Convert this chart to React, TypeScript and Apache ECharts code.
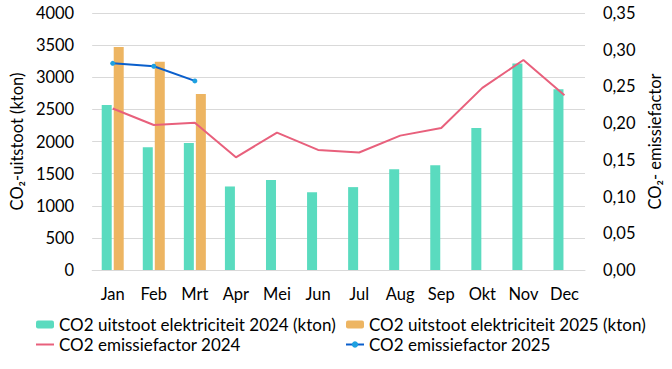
import React, { useEffect, useRef } from "react";
import * as echarts from "echarts";

const months = ["Jan", "Feb", "Mrt", "Apr", "Mei", "Jun", "Jul", "Aug", "Sep", "Okt", "Nov", "Dec"];
const uitstoot2024 = [2570, 1910, 1975, 1300, 1400, 1210, 1290, 1570, 1630, 2210, 3215, 2815];
const uitstoot2025 = [3470, 3240, 2740, null, null, null, null, null, null, null, null, null];
const factor2024 = [0.220, 0.1975, 0.2005, 0.1535, 0.187, 0.1635, 0.160, 0.183, 0.1935, 0.248, 0.286, 0.238];
const factor2025 = [0.2815, 0.2775, 0.2575, null, null, null, null, null, null, null, null, null];

const names = {
  b24: "CO2 uitstoot elektriciteit 2024 (kton)",
  b25: "CO2 uitstoot elektriciteit 2025 (kton)",
  l24: "CO2 emissiefactor 2024",
  l25: "CO2 emissiefactor 2025",
};

const FONT = "Lato";

export default function App() {
  const ref = useRef<HTMLDivElement>(null);
  useEffect(() => {
    if (!ref.current) return;
    const chart = echarts.init(ref.current, null, { renderer: "svg" });
    const text = { color: "#000", fontFamily: FONT, fontSize: 16.5 };
    const legendText = { color: "#000", fontFamily: FONT, fontSize: 17 };
    chart.setOption({
      animation: false,
      textStyle: { fontFamily: FONT },
      grid: { left: 89, right: 87, top: 13, bottom: 99 },
      legend: [
        {
          orient: "vertical",
          left: 35,
          top: 316,
          padding: 0,
          itemWidth: 18,
          itemHeight: 8,
          itemGap: 3,
          textStyle: legendText,
          data: [names.b24, { name: names.l24, itemStyle: { opacity: 0 } }],
        },
        {
          orient: "vertical",
          left: 345,
          top: 316,
          padding: 0,
          itemWidth: 18,
          itemHeight: 8,
          itemGap: 3,
          textStyle: legendText,
          data: [names.b25, names.l25],
        },
      ],
      xAxis: {
        type: "category",
        data: months,
        axisLine: { lineStyle: { color: "#d9d9d9", width: 1 } },
        axisTick: { show: false },
        axisLabel: { ...text, margin: 15 },
      },
      yAxis: [
        {
          type: "value",
          min: 0,
          max: 4000,
          interval: 500,
          name: "CO₂-uitstoot (kton)",
          nameLocation: "middle",
          nameGap: 57,
          nameRotate: 90,
          nameTextStyle: text,
          axisLabel: { ...text, margin: 18, formatter: (v: number) => String(v) },
          splitLine: { lineStyle: { color: "#d9d9d9" } },
        },
        {
          type: "value",
          min: 0,
          max: 0.35,
          interval: 0.05,
          name: "CO₂- emissiefactor",
          nameLocation: "middle",
          nameGap: 53,
          nameRotate: 90,
          nameTextStyle: text,
          axisLabel: {
            ...text,
            margin: 18,
            formatter: (v: number) => v.toFixed(2).replace(".", ","),
          },
          splitLine: { show: false },
        },
      ],
      series: [
        {
          name: names.b24,
          type: "bar",
          data: uitstoot2024,
          barWidth: 10,
          barGap: "20%",
          itemStyle: { color: "#5ADBBF" },
        },
        {
          name: names.b25,
          type: "bar",
          data: uitstoot2025,
          barWidth: 10,
          barGap: "20%",
          itemStyle: { color: "#EDB562" },
        },
        {
          name: names.l24,
          type: "line",
          yAxisIndex: 1,
          data: factor2024,
          symbol: "none",
          lineStyle: { color: "#E8607C", width: 2 },
          itemStyle: { color: "#E8607C" },
        },
        {
          name: names.l25,
          type: "line",
          yAxisIndex: 1,
          data: factor2025,
          symbol: "circle",
          symbolSize: 5,
          lineStyle: { color: "#0A5FCC", width: 2 },
          itemStyle: { color: "#1EA0E0" },
        },
      ],
    });
    return () => chart.dispose();
  }, []);
  return <div ref={ref} style={{ width: 672, height: 369, position: "absolute", left: 0, top: 0 }} />;
}
